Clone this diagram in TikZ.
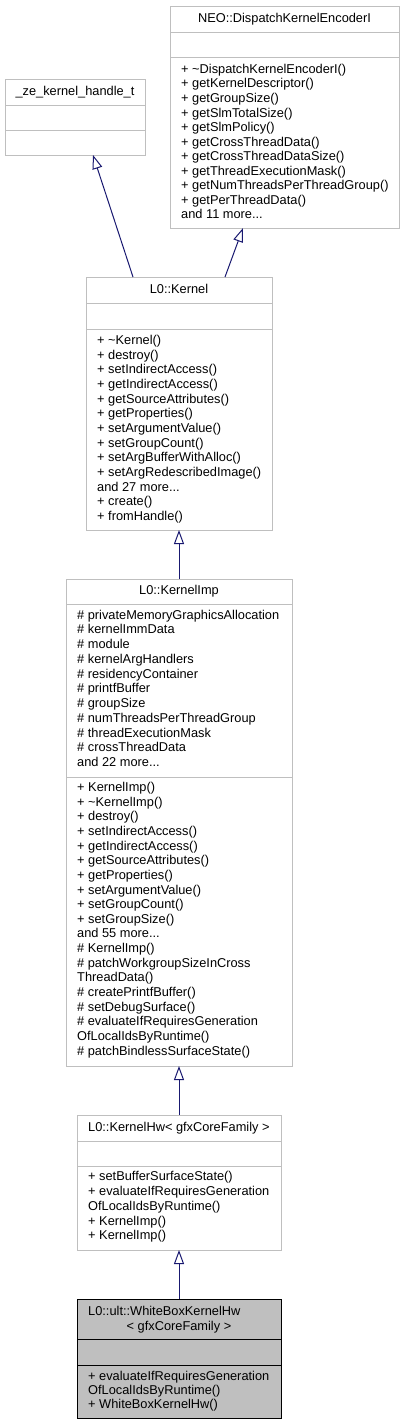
\documentclass[tikz,border=0pt]{standalone}
\usepackage{fontspec}
\setmainfont{Liberation Sans}
\usetikzlibrary{arrows.meta,calc}
\definecolor{edgeblue}{HTML}{191970}
\definecolor{boxgrey}{HTML}{BFBFBF}
\newcommand\mdots{...}
\tikzset{
  classbox/.style={draw=boxgrey, line width=1pt, fill=white, inner sep=0pt, outer sep=0pt, anchor=north west},
  curbox/.style={draw=black, line width=1pt, fill=boxgrey, inner sep=0pt, outer sep=0pt, anchor=north west},
  divider/.style={draw=boxgrey, line width=1pt},
  curdivider/.style={draw=black, line width=1pt},
  txt/.style={inner sep=0pt, anchor=west, text height=9.6pt, text depth=2.9pt, font=\fontsize{12.8pt}{14.67pt}\selectfont},
  ctxt/.style={txt, anchor=center},
  inherit/.style={draw=edgeblue, line width=1pt, -{Triangle[open, length=14pt, width=10pt, line width=1pt]}},
}
\begin{document}
\begin{tikzpicture}[x=1pt, y=-1pt]
\useasboundingbox (0,0) rectangle (405,1425);

% _ze_kernel_handle_t
\node[classbox, minimum width=140pt, minimum height=76pt] (ze) at (5,79) {};
\draw[divider] (5,105) -- (145,105);
\draw[divider] (5,130) -- (145,130);
\node[ctxt] (zet) at (75,92) {\_ze\_kernel\_handle\_t};

% NEO::DispatchKernelEncoderI
\node[classbox, minimum width=229pt, minimum height=222pt] (disp) at (170,6) {};
\draw[divider] (170,32) -- (399,32);
\draw[divider] (170,57) -- (399,57);
\node[ctxt] (dispt) at (284.5,19) {NEO::DispatchKernelEncoderI};
\foreach \t [count=\i from 0] in {
  + \textasciitilde DispatchKernelEncoderI(),
  + getKernelDescriptor(),
  + getGroupSize(),
  + getSlmTotalSize(),
  + getSlmPolicy(),
  + getCrossThreadData(),
  + getCrossThreadDataSize(),
  + getThreadExecutionMask(),
  + getNumThreadsPerThreadGroup(),
  + getPerThreadData(),
  and 11 more\mdots}
  \node[txt] (disp-l\i) at (181,70+\i*14.55) {\t};

% L0::Kernel
\node[classbox, minimum width=186pt, minimum height=253pt] (kernel) at (86,277) {};
\draw[divider] (86,303) -- (272,303);
\draw[divider] (86,329) -- (272,329);
\node[ctxt] (kernelt) at (179,290) {L0::Kernel};
\foreach \t [count=\i from 0] in {
  + \textasciitilde Kernel(),
  + destroy(),
  + setIndirectAccess(),
  + getIndirectAccess(),
  + getSourceAttributes(),
  + getProperties(),
  + setArgumentValue(),
  + setGroupCount(),
  + setArgBufferWithAlloc(),
  + setArgRedescribedImage(),
  and 27 more\mdots,
  + create(),
  + fromHandle()}
  \node[txt] (kernel-l\i) at (97,341+\i*14.67) {\t};

% L0::KernelImp
\node[classbox, minimum width=226pt, minimum height=487pt] (imp) at (66,579) {};
\draw[divider] (66,604) -- (292,604);
\draw[divider] (66,777) -- (292,777);
\node[ctxt] (impt) at (179,591.5) {L0::KernelImp};
\foreach \t [count=\i from 0] in {
  \# privateMemoryGraphicsAllocation,
  \# kernelImmData,
  \# module,
  \# kernelArgHandlers,
  \# residencyContainer,
  \# printfBuffer,
  \# groupSize,
  \# numThreadsPerThreadGroup,
  \# threadExecutionMask,
  \# crossThreadData,
  and 22 more\mdots}
  \node[txt] (imp-a\i) at (77,615.7+\i*14.76) {\t};
\foreach \t [count=\i from 0] in {
  + KernelImp(),
  + \textasciitilde KernelImp(),
  + destroy(),
  + setIndirectAccess(),
  + getIndirectAccess(),
  + getSourceAttributes(),
  + getProperties(),
  + setArgumentValue(),
  + setGroupCount(),
  + setGroupSize(),
  and 55 more\mdots,
  \# KernelImp(),
  \# patchWorkgroupSizeInCross,
  ThreadData(),
  \# createPrintfBuffer(),
  \# setDebugSurface(),
  \# evaluateIfRequiresGeneration,
  OfLocalIdsByRuntime(),
  \# patchBindlessSurfaceState()}
  \node[txt] (imp-m\i) at (77,788.3+\i*14.63) {\t};

% L0::KernelHw
\node[classbox, minimum width=204pt, minimum height=135pt] (hw) at (77,1115) {};
\draw[divider] (77,1141) -- (281,1141);
\draw[divider] (77,1166) -- (281,1166);
\node[txt] (hwt) at (88,1128) {L0::KernelHw< gfxCoreFamily >};
\foreach \t [count=\i from 0] in {
  + setBufferSurfaceState(),
  + evaluateIfRequiresGeneration,
  OfLocalIdsByRuntime(),
  + KernelImp(),
  + KernelImp()}
  \node[txt] (hw-l\i) at (88,1177.3+\i*14.8) {\t};

% L0::ult::WhiteBoxKernelHw
\node[curbox, minimum width=204pt, minimum height=119pt] (wb) at (77,1299) {};
\draw[curdivider] (77,1339) -- (281,1339);
\draw[curdivider] (77,1365) -- (281,1365);
\node[txt] (wbt1) at (88,1311.7) {L0::ult::WhiteBoxKernelHw};
\node[ctxt] (wbt2) at (179,1326.7) {< gfxCoreFamily >};
\foreach \t [count=\i from 0] in {
  + evaluateIfRequiresGeneration,
  OfLocalIdsByRuntime(),
  + WhiteBoxKernelHw()}
  \node[txt] (wb-l\i) at (88,1377+\i*14) {\t};

% inheritance arrows
\draw[inherit] ($(kernel.north west)+(47,0)$) -- ($(ze.south west)+(88,0)$);
\draw[inherit] ($(kernel.north west)+(139,0)$) -- ($(disp.south west)+(73,0)$);
\draw[inherit] ($(imp.north west)+(113,0)$) -- ($(kernel.south west)+(93,0)$);
\draw[inherit] ($(hw.north west)+(102,0)$) -- ($(imp.south west)+(113,0)$);
\draw[inherit] ($(wb.north west)+(102,0)$) -- ($(hw.south west)+(102,0)$);
\end{tikzpicture}
\end{document}
